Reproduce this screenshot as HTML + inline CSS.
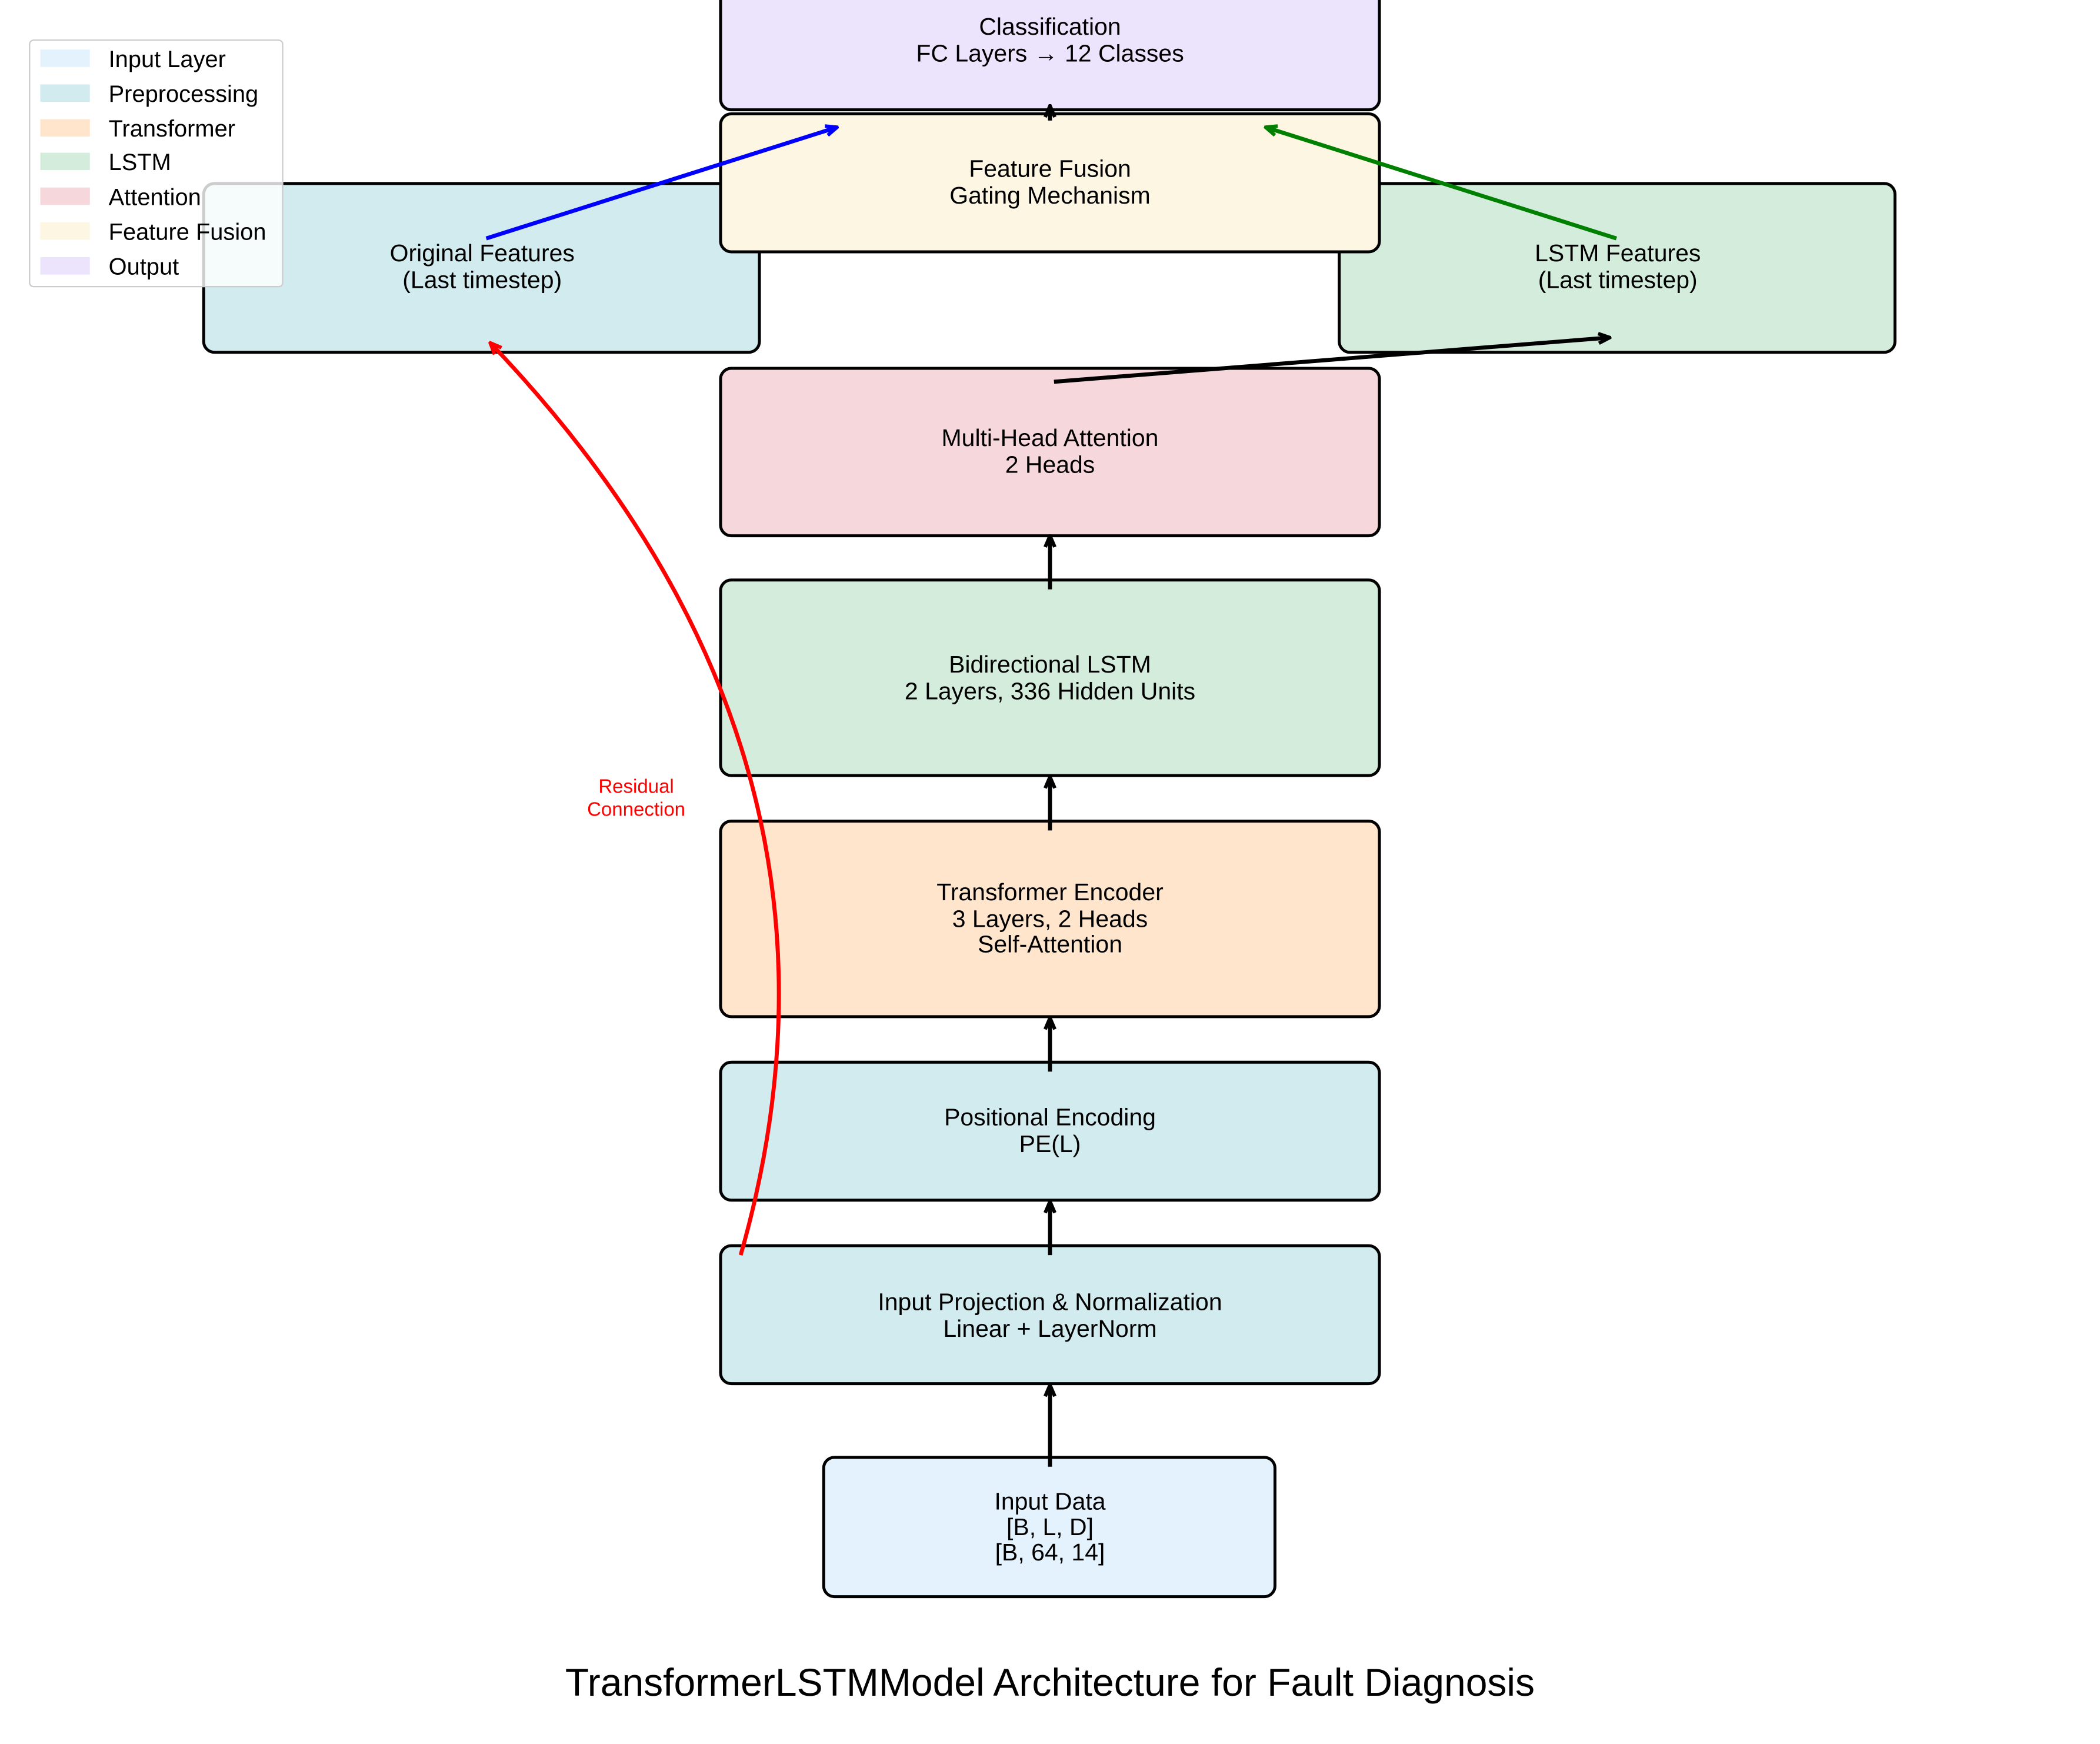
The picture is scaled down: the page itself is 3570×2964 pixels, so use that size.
<!DOCTYPE html>
<html><head><meta charset="utf-8"><style>
html,body{margin:0;padding:0;background:#fff;}
svg{display:block;}
text{font-family:"Liberation Sans",Arial,sans-serif;}
</style></head><body>
<svg width="3570" height="2964" viewBox="0 0 1568 1302" xmlns="http://www.w3.org/2000/svg">
<defs>
<marker id="ak" viewBox="0 0 10 10" refX="9" refY="5" markerWidth="12" markerHeight="12" orient="auto" markerUnits="userSpaceOnUse"><path d="M2,2 L9,5 L2,8" fill="none" stroke="#000" stroke-width="2.2"/></marker>
<marker id="ab" viewBox="0 0 10 10" refX="9" refY="5" markerWidth="12" markerHeight="12" orient="auto" markerUnits="userSpaceOnUse"><path d="M2,2 L9,5 L2,8" fill="none" stroke="#0000ff" stroke-width="2.2"/></marker>
<marker id="ag" viewBox="0 0 10 10" refX="9" refY="5" markerWidth="12" markerHeight="12" orient="auto" markerUnits="userSpaceOnUse"><path d="M2,2 L9,5 L2,8" fill="none" stroke="#008000" stroke-width="2.2"/></marker>
<marker id="ar" viewBox="0 0 10 10" refX="9" refY="5" markerWidth="12" markerHeight="12" orient="auto" markerUnits="userSpaceOnUse"><path d="M2,2 L9,5 L2,8" fill="none" stroke="#ff0000" stroke-width="2.2"/></marker>
</defs>
<g stroke="#000" stroke-width="2.2">
<rect x="538" y="-20" width="492" height="102" rx="8" fill="#ece3fd"/>
<rect x="152" y="137" width="415" height="126" rx="8" fill="#d1ebef"/>
<rect x="1000" y="137" width="415" height="126" rx="8" fill="#d4ecdb"/>
<rect x="538" y="85" width="492" height="103" rx="8" fill="#fcf6e3"/>
<rect x="538" y="275" width="492" height="125" rx="8" fill="#f6d7db"/>
<rect x="538" y="433" width="492" height="146" rx="8" fill="#d4ecdb"/>
<rect x="538" y="613" width="492" height="146" rx="8" fill="#ffe5cc"/>
<rect x="538" y="793" width="492" height="103" rx="8" fill="#d1ebef"/>
<rect x="538" y="930" width="492" height="103" rx="8" fill="#d1ebef"/>
<rect x="615" y="1088" width="337" height="104" rx="8" fill="#e3f2fd"/>
</g>
<g font-size="18" text-anchor="middle" fill="#000">
<text x="784" y="26">Classification</text><text x="784" y="46">FC Layers → 12 Classes</text>
<text x="784" y="132">Feature Fusion</text><text x="784" y="152">Gating Mechanism</text>
<text x="360" y="195">Original Features</text><text x="360" y="215">(Last timestep)</text>
<text x="1208" y="195">LSTM Features</text><text x="1208" y="215">(Last timestep)</text>
<text x="784" y="333">Multi-Head Attention</text><text x="784" y="353">2 Heads</text>
<text x="784" y="502">Bidirectional LSTM</text><text x="784" y="522">2 Layers, 336 Hidden Units</text>
<text x="784" y="672">Transformer Encoder</text><text x="784" y="692">3 Layers, 2 Heads</text><text x="784" y="711">Self-Attention</text>
<text x="784" y="840">Positional Encoding</text><text x="784" y="860">PE(L)</text>
<text x="784" y="978">Input Projection &amp; Normalization</text><text x="784" y="998">Linear + LayerNorm</text>
<text x="784" y="1127">Input Data</text><text x="784" y="1146">[B, L, D]</text><text x="784" y="1165">[B, 64, 14]</text>
</g>
<text x="784" y="1266" font-size="29" text-anchor="middle">TransformerLSTMModel Architecture for Fault Diagnosis</text>
<g stroke="#000" stroke-width="3" fill="none" marker-end="url(#ak)">
<line x1="784" y1="1095" x2="784" y2="1034"/>
<line x1="784" y1="937" x2="784" y2="897"/>
<line x1="784" y1="800" x2="784" y2="760"/>
<line x1="784" y1="620" x2="784" y2="580"/>
<line x1="784" y1="440" x2="784" y2="400"/>
<line x1="784" y1="90" x2="784" y2="79"/>
<line x1="787" y1="285" x2="1202" y2="252"/>
</g>
<line x1="363" y1="178" x2="625" y2="95" stroke="#0000ff" stroke-width="3" marker-end="url(#ab)"/>
<line x1="1207" y1="178" x2="945" y2="95" stroke="#008000" stroke-width="3" marker-end="url(#ag)"/>
<path d="M553,937 Q660,563 366,256" stroke="#ff0000" stroke-width="3" fill="none" marker-end="url(#ar)"/>
<text x="475" y="592" font-size="14.5" fill="#ff0000" text-anchor="middle">Residual</text>
<text x="475" y="609" font-size="14.5" fill="#ff0000" text-anchor="middle">Connection</text>
<rect x="22" y="30" width="189" height="184" rx="3" fill="#fff" fill-opacity="0.8" stroke="#ccc" stroke-width="1"/>
<g font-size="17.5" fill="#000">
<rect x="30" y="37" width="37" height="13" fill="#e3f2fd"/><text x="81" y="50">Input Layer</text>
<rect x="30" y="63" width="37" height="13" fill="#d1ebef"/><text x="81" y="76">Preprocessing</text>
<rect x="30" y="89" width="37" height="13" fill="#ffe5cc"/><text x="81" y="102">Transformer</text>
<rect x="30" y="114" width="37" height="13" fill="#d4ecdb"/><text x="81" y="127">LSTM</text>
<rect x="30" y="140" width="37" height="13" fill="#f6d7db"/><text x="81" y="153">Attention</text>
<rect x="30" y="166" width="37" height="13" fill="#fcf6e3"/><text x="81" y="179">Feature Fusion</text>
<rect x="30" y="192" width="37" height="13" fill="#ece3fd"/><text x="81" y="205">Output</text>
</g>
</svg>
</body></html>
